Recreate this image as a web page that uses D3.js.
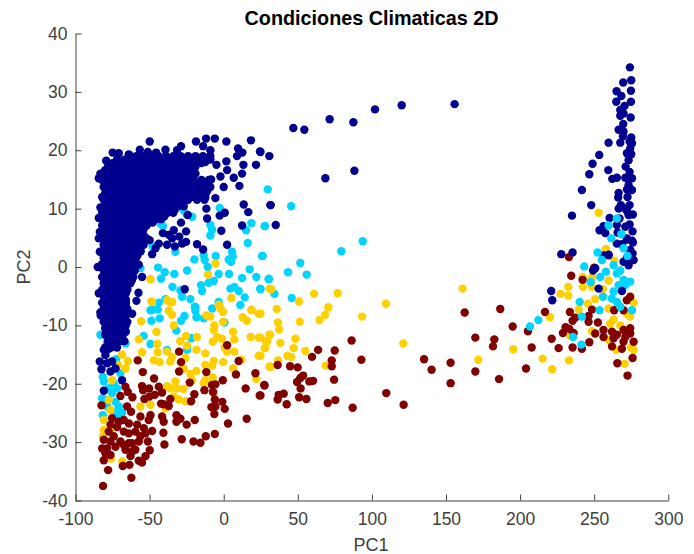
<!DOCTYPE html>
<html>
<head>
<meta charset="utf-8">
<script src="https://cdn.jsdelivr.net/npm/d3@7"></script>
<style>
html,body{margin:0;padding:0;background:#fff;}
svg{display:block;}
</style>
</head>
<body>
<div id="chart"></div>
<script>
const chartTitle = "Condiciones Climaticas 2D";
const xLabel = "PC1";
const yLabel = "PC2";
const xTicks = [-100,-50,0,50,100,150,200,250,300];
const yTicks = [-40,-30,-20,-10,0,10,20,30,40];

const navyColor = "#00008f", cyanColor = "#00d4ff", yellowColor = "#ffd000", maroonColor = "#800000";

// dense navy cloud, read row by row: [PC2, [PC1 ...]]
const navyRows = [
[19.0,[-64,-59,-54,-49,-44,-39,-34,-29,-24,-19,-14,-9]],
[18.4,[-72,-67,-62,-57,-52,-47,-42,-37,-32,-27,-22,-17,-12,-9]],
[17.8,[-75,-70,-65,-60,-55,-50,-45,-40,-35,-30,-25,-20,-15]],
[17.2,[-78,-73,-68,-64,-59,-55,-50,-46,-41,-36,-32,-27,-23,-19]],
[16.6,[-80,-75,-70,-66,-61,-57,-52,-48,-43,-38,-34,-30,-25,-21]],
[16.0,[-81,-77,-72,-68,-63,-59,-54,-50,-45,-41,-36,-32,-27,-23,-19]],
[15.4,[-80,-76,-71,-66,-62,-58,-53,-49,-44,-40,-35,-31,-26,-21]],
[14.9,[-82,-78,-74,-69,-65,-60,-56,-51,-47,-42,-38,-33,-29,-24,-20,-15,-10]],
[14.3,[-80,-75,-71,-66,-62,-57,-53,-48,-44,-39,-35,-30,-25,-22,-17,-12]],
[13.7,[-81,-77,-72,-68,-63,-59,-54,-50,-45,-41,-36,-32,-27,-23,-18,-13,-9]],
[13.1,[-79,-74,-70,-65,-61,-56,-52,-47,-43,-38,-33,-29,-24,-19,-15,-11]],
[12.6,[-80,-76,-71,-67,-62,-58,-53,-49,-44,-40,-35,-31,-26,-21,-16,-12]],
[12.0,[-79,-75,-70,-66,-61,-57,-52,-48,-43,-39,-34,-30,-25,-20,-15]],
[11.5,[-81,-77,-73,-68,-64,-59,-55,-50,-46,-41,-37,-32,-28,-24,-18,-13]],
[10.9,[-79,-74,-70,-65,-61,-56,-52,-47,-43,-38,-34,-29]],
[10.4,[-80,-75,-71,-66,-62,-57,-53,-48,-44,-39,-35,-31,-27]],
[9.8,[-81,-77,-72,-68,-63,-59,-54,-50,-45,-41,-36,-33]],
[9.3,[-82,-78,-73,-69,-64,-60,-55,-51,-47,-42,-38,-34]],
[8.7,[-80,-75,-71,-66,-62,-57,-53,-48,-44,-40]],
[8.2,[-81,-76,-72,-67,-63,-58,-54,-50,-46,-42]],
[7.6,[-80,-75,-71,-66,-62,-57,-53,-48]],
[7.1,[-82,-78,-73,-69,-64,-60,-56,-52]],
[6.5,[-80,-75,-71,-66,-62,-58,-54]],
[6.0,[-81,-76,-72,-67,-63,-59,-55]],
[5.4,[-80,-75,-71,-66,-62,-58,-54]],
[4.9,[-82,-78,-73,-69,-64,-60,-56,-52]],
[4.3,[-80,-75,-71,-66,-62,-57]],
[3.8,[-81,-76,-72,-67,-63,-58,-54]],
[3.2,[-80,-75,-71,-66,-62,-58]],
[2.7,[-82,-78,-73,-69,-64,-60,-56]],
[2.1,[-80,-75,-71,-66,-62,-58]],
[1.6,[-81,-76,-72,-67,-63,-59]],
[1.0,[-80,-75,-70,-66,-62]],
[0.5,[-82,-78,-73,-69,-64,-60]],
[-0.1,[-80,-75,-71,-66,-62]],
[-0.6,[-81,-76,-72,-67,-63,-60]],
[-1.2,[-80,-75,-70,-66,-62]],
[-1.7,[-82,-78,-73,-69,-65,-61]],
[-2.3,[-80,-75,-71,-66,-62]],
[-2.8,[-81,-76,-72,-68,-63]],
[-3.4,[-79,-75,-70,-66]],
[-3.9,[-82,-78,-73,-69,-65]],
[-4.5,[-80,-75,-71,-66]],
[-5.0,[-81,-76,-72,-68]],
[-5.6,[-79,-75,-70,-66]],
[-6.1,[-82,-78,-73,-69,-66]],
[-6.7,[-80,-75,-71,-66]],
[-7.2,[-81,-76,-72,-68,-65]],
[-7.8,[-79,-75,-70,-66]],
[-8.3,[-83,-78,-73,-69,-66]],
[-8.9,[-80,-75,-71,-67]],
[-9.4,[-81,-76,-72,-68,-65]],
[-10.0,[-79,-74,-70,-66]],
[-10.5,[-80,-75,-71,-67]],
[-11.1,[-78,-74,-69,-66]],
[-11.6,[-80,-76,-72,-68]],
[-12.7,[-78,-74,-70,-67]],
[-13.8,[-80,-76,-72]]
];

const navyPoints = [
[155.8,27.9],[120.1,27.7],[102.1,27],[71.5,25.3],[87.5,24.8],[47,23.8],[54.4,23.5],[24.8,19.7],[30.8,19],[88.2,16.5],[68.6,15.2],[31.7,10.6],[35.1,7.2],
[-49.9,21.5],[-74.9,19.6],[-70.8,19.5],[-64,19.3],[-56.6,20.1],[-51.2,19.7],[-45.6,19.6],[-39.3,20.1],[-31.5,20],[-28.8,20.7],[-18.7,21.5],[-11.9,22],[-6,22],[1.8,21.5],[18.4,21.7],[-13.9,20.7],[-9,20],[9.7,20.3],[12.6,19.6],[24.5,19.8],[9,19],[21.8,17.5],[13.3,17.5],[1.8,18.1],[-4.9,17.5],[-12.4,18],[12.4,16],[2.3,16.6],[6.8,15.3],[-2.2,15.5],[0,13.7],[10.6,13.9],[-8.5,15],[-5.6,11.8],[13.5,10.7],[16.6,9.4],[0.7,9.3],[-2.7,8.8],[31.5,10.6],[-11.7,10],[-11.2,8.3],[-24.3,8.9],[12.4,7.1],[-1.6,6.2],[-25.4,6.1],[-28.8,7.6],[-33.7,6.3],[-18,3.9],[2.3,3.8],[-25.4,4.3],[-28.1,4],[-13.9,3],[-34.8,4.9],[-38.2,3.8],[-43.8,4],[-48.3,2.2],[-57.3,0.4],[-55.1,-1.7],[-26.3,-3.8],[-57.5,-4.4],[-58.9,-5.8],[-12.4,11.9],[-42.7,8.2],[-84.3,15.2],[-83.2,16],[-79.3,18.2],[-70.8,18],[-83.2,10.2],[-84.3,8.4],[-82,12],[-84.3,4.9],[-83.6,2.6],[-83.6,6],[-85,0],[-84.3,-4.5],[-81.6,-6.2],
[-37,5.5],[-33,3.5],[-41,5.8],[-46,3.2],[-30,5.2],[-50,4.6],
[-61.8,-8],[-83.2,-7.8],[-80.9,-14.2],[-77.6,-14],[-74.2,-13.4],[-79.8,-15.1],[-83.6,-16.2],[-78.7,-16.5],[-82.5,-17.5],[-75.3,-16.2],[-73,-17.4],[-68.6,-19.4],[-76.4,-17.9],[-80.9,-21.2],
[274.1,34.2],[275,32],[269.6,31.6],[274.8,30.2],[265.1,30.1],[268.3,29.3],[274.8,28.3],[264.9,28.3],[270.5,27.6],[267.6,26.9],[269.8,26.3],[267.6,25.9],[274.6,25.6],[269.6,24.5],[266.5,23.5],[269.8,23.2],[269.4,22.4],[275,22.2],[259.7,21.3],[267.6,21.3],[273.9,21.5],[275.5,21.2],[274.3,20.3],[272.1,19.5],[275,19.3],[273.2,18.3],[253.4,19.2],[248.9,17.7],[271.2,17.2],[259.5,16.6],[273.9,16.3],[246.7,15.9],[262.2,15.1],[265.3,15.3],[271,15.3],[275.5,15.2],[273.2,15.2],[273.2,14],[241.7,13.2],[272.1,13.3],[275.5,13.2],[266.5,12.7],[272.5,12],[266.2,11.9],[248,10.6],[268,10.6],[273.9,10.6],[266.5,10],[271,10],[272.1,9.6],[276.1,9],[235,8.8],[273.2,8.9],[260.4,8.4],[267.1,8.3],[265.3,7.2],[273.9,7.3],[271,6.9],[256.3,7],[253.6,6.3],[257.5,5.8],[265.8,5.9],[275.9,6.1],[272.1,4.9],[275.5,4.5],[272.1,4.7],[276.1,4.2],[265.3,4],[268.7,3.9],[274.3,2.9],[275.9,2.3],[227.8,2.2],[235.4,2.5],[256.3,2],[259.7,2],[272,1.5],[276.6,1.2],[269.8,0.9],[273.2,0.3],[250.7,-0.2],[249.2,-0.6],[221,-4.1],[221.7,-5.7],[253,-3.7]
];

const navyTopPoints = [[268.7,-4.1],[259.7,2.1]];

const cyanLeftPoints = [
[29.7,13.3],[45.5,10.4],[27.7,7],[93.8,4.4],[79.4,2.7],[26.3,1.9],[51.7,0.7],[43.4,-0.9],[56,-1.3],[30.4,-2.1],[24.8,-3.8],[34.2,-4.6],[45.9,-5.3],
[-48,3.6],[-42.7,7.5],[-27,9.7],[-21.3,8.6],[-32.6,2.6],[-56.2,-0.2],[-60.7,3.2],[-41,7],[-25,9],
[-2.7,10.1],[-9,7.2],[-7.8,6.4],[-9,5.4],[18.7,7.5],[27.7,7],[15.1,6.3],[16.2,4.1],[5.6,2.6],[25.9,1.9],[6.1,1.8],[-13.5,2],[-12.8,1.2],[-5.4,1.9],[-19.8,1.3],[3.4,1.3],[5,0.9],[-10.8,0],[-44.3,-0.1],[-24.7,-0.6],[-39.8,-0.9],[-33.3,-1.2],[17.5,-0.4],[3.6,-1.2],[22,-1.7],[-42.3,-2],[-3.4,-1.2],[12.4,-1.9],[30.4,-2],[-6.7,-2.4],[-10.1,-2.7],[-15.3,-3.1],[-34.6,-3.4],[-14.6,-4.1],[4.5,-3.7],[7.2,-3.4],[10.1,-4.1],[24.7,-3.7],[-29.2,-4],[-28.1,-5.1],[-22.5,-5.5],[14.2,-5.2],[-43.8,-6.1],[-39.3,-5.5],[11.2,-6.5],[-19.1,-6.9],[-3.4,-6],[-7.8,-7.1],[-49.4,-7.4],
[-47.2,-7.3],[-44.5,-7.3],[-48.8,-9.2],[-43.2,-8.8],[-19.5,-6.8],[-19.1,-7.5],[-26.5,-8.4],[-28.8,-9.2],[-18.4,-8.6],[-13.5,-8.8],[0.5,-9.5],[-31.9,-10.9],[-54,-11.8],[-49.4,-13.2],[-21.8,-12.2],[-24.7,-14.2],[-38.2,-14.2],[-83.2,-11.6],[-78.7,-12.8],[-66.3,-13.1],[-72.6,-15.8],[-69.7,-18.2],[-81.6,-18.8],[-80.9,-19.6],[-77.6,-20.8],[-74.2,-19.9],[-71.9,-20.8],[-75.3,-21.6],[-82,-22.5],[-79.8,-22.8],[-73,-23.1],[-70.8,-23.9],[-78.7,-23.9],[-81.6,-25.4],[-68.6,-25],[-73,-24.8],[-71.9,-25.6]
];

const cyanRightPoints = [
[259.7,7.1],[265.3,8.3],[268.3,5.6],[261.5,4.9],[269.8,3.2],[252.3,2.5],[255.2,1.2],[272.5,1.9],[263.1,0.3],[243.3,0.1],[265.3,-1.1],[267.6,-0.6],[257.9,-0.8],[254.1,-1.7],[247.6,-2.6],[269.8,-2.2],[274.3,-2.5],[266.5,-3.1],[271,-3.1],[263.1,-4.2],[255.9,-5.1],[261.9,-5.4],[240.2,-6],[265.3,-6],[267.6,-6.8],[275.5,-7.4],[253.6,-7.4],[241.7,-8.5],[212.3,-9.1],[206.7,-10.2],[235.7,-12],[241.3,-13.3]
];

const yellowPoints = [
[161.2,-3.7],[32,-3.8],[61,-4.6],[76.9,-4.5],[50.8,-5.9],[109.5,-6.3],[70.6,-6.9],[35.8,-7.2],[24.8,-8],[68.4,-8.2],[93.4,-8.5],[64.6,-9.1],[51.3,-9.4],[36.7,-9.5],[37.4,-10.7],[31.3,-11.6],[48.4,-12.3],[24.8,-12.1],[28.6,-12.7],[38.2,-13],[121.2,-13.1],[27.7,-13.9],[47.2,-13.9],[55.1,-14.4],[43,-15.2],[24.8,-15.2],[45.5,-15.4],[171.8,-15.9],[36.7,-16],[68.8,-16.9],[31.7,-17.1],
[253,9.3],[257.9,3.1],[263.5,1.1],[242.2,-1.7],[248.5,-1.8],[259.7,-2.3],[242.4,-3.4],[232.5,-3.4],[248.5,-3.4],[255.9,-3.8],[227.3,-4.6],[232.5,-4.9],[250.7,-5.5],[245.8,-6.3],[276.6,-6.1],[239.5,-7.3],[259.7,-7.1],[272.1,-8],[220.2,-8.6],[263.1,-9],[274.3,-8.5],[260.8,-9.7],[267.6,-10],[248.5,-11],[233.9,-11.8],[259.7,-12.5],[274.8,-13.8],[264.9,-14.2],[195.4,-14.1],[215.2,-15.7],[233,-16],[221.7,-17.5],[270.5,-16.6],[276.6,-14.2],
[-48.8,-5.9],[-36,-6.1],[-37.1,-7.5],[-34.8,-8.2],[-55.7,-9.3],[-33.7,-10],[-45.4,-11.1],[-57.3,-12.4],[-25.4,-11.8],[-18,-12],[-29.3,-12.7],[-44.9,-13.2],[-24.7,-13.5],[-55.1,-14.6],[-44.5,-14.6],[-38.2,-14.5],[-18.4,-14.2],[-12.4,-14.8],[-4.5,-12],[-1.1,-12.3],[-7.4,-12.8],[-11.7,-8.3],[-9,-8.5],[-6.3,-10],[-6.7,-10.8],[-0.4,-9.4],[-3.4,-6.5],[-2.2,-7.1],[-0.4,-7.7],[12.8,-8.6],[15.7,-9.2],[18.7,-7.4],[23.6,-8],[6.3,-11.1],[7.2,-12.4],[0.7,-13.8],[7.2,-14.5],[2.3,-14.5],[18.2,-12],[23.6,-12.1],[29.2,-12.8],[27.9,-13.9],[30.8,-11.6],[23.6,-15.2],[31,-17.1],[-0.4,-16.3],[11.9,-15.9],[6.3,-17.4],[22,-19.2],[-6.7,-16.1],[-7.8,-16.9],[-12.4,-16.8],[-18.4,-17.8],[-22.4,-18.3],[-21.4,-19.4],[-7.4,-18.9],[-12.4,-19.4],[-13.5,-19.9],[-6.7,-21.6],[-27,-17.4],[-25.8,-15.6],[-34.8,-15.4],[-36,-16.2],[-47.2,-16],[-43.2,-16.3],[-32.6,-19.6],[-38.2,-20.4],[-36,-20.8],[-27,-20.9],[-31.5,-20.8],[-33.7,-22.2],[-25.8,-23],[-30.3,-22.7],[-49.4,-23.6],[-56.2,-23.9],[-39.3,-24.2],[-64.7,-16.1],[-68.6,-15],[-71.3,-16.8],[-66.3,-17.4],[-75.3,-19.4],[-74.2,-27.5],[-80.9,-27.9],[-81.4,-29],[-77.6,-22.8],[-76.4,-24.5],[-80.9,-26.2],[-68.5,-33.3],[-76,-32.8],
[-49.4,-2.1],[-5.6,0.6],[-10.6,-1.3],[5.2,-5.3],[-48.3,-6],[-38.2,-5.7],[-34.8,-6],[-3.1,-6.5],[31,-3.7],[18.7,-7.3]
];

const maroonPoints = [
[162.6,-7.8],[186.6,-7.2],[169.8,-12.1],[182.6,-12.4],[181.7,-13.6],[86.3,-12.6],[63.7,-14.2],[74.9,-14.3],[59.6,-15.4],[135.2,-15.8],[92.9,-15.9],[72.9,-16],[153.1,-16.4],[140.3,-17.6],[169.8,-17.9],[72.9,-17],[36.4,-16.8],[44.8,-17],[49.9,-17.2],[53.6,-18.6],[51.7,-19],[49.5,-19.7],[74.5,-19.3],[57.8,-19.6],[60.3,-19.5],[185.8,-19.2],[27.5,-20.3],[51.9,-20.8],[153.1,-19.9],[40.5,-21.7],[37.1,-21.9],[24.8,-22],[109.7,-21.6],[36.4,-22.7],[50.9,-22.3],[55.8,-22.6],[75.3,-22.8],[70.2,-23.3],[42.5,-23.5],[121.4,-23.6],[87,-24.1],
[233,1.7],[250,-0.1],[234.5,-1.5],[242.2,-2.2],[272,-5.7],[274.3,-5.1],[263.5,-7.4],[248.5,-7.3],[246.2,-8.4],[269.8,-7.4],[233.6,-7.7],[216.8,-7.7],[237.2,-8.7],[235.4,-9.2],[246.2,-9.4],[252.5,-9.5],[195,-10.2],[205.3,-11],[230.7,-10.3],[228.9,-11.3],[233.2,-10.6],[236.1,-11.3],[221.3,-12.3],[250.7,-11.4],[256.3,-10.8],[262,-11.1],[256.3,-12],[265.3,-11.6],[269.8,-10.8],[274.3,-10.5],[274.3,-11.4],[271,-12],[263.1,-12.2],[269.8,-12.8],[276.6,-12.8],[246.7,-12.9],[207.8,-13.8],[226,-13.9],[235.4,-13.8],[241.7,-14],[262,-13.6],[268.7,-14],[275.9,-15.6],[265.6,-16.5],[204,-17.4],[272.5,-18.6],
[-81.4,-37.5],[-62.3,-36.1],[-78,-34.8],[-80.9,-33.1],[-68.1,-34.1],[-63.6,-33.9],[-57.3,-33.2],[-55.1,-33.5],[-52.8,-32.4],[-49.9,-31.4],[-40,-30.4],[-82,-31.1],[-78.7,-31.1],[-76.4,-32.2],[-79.8,-31.9],[-66.3,-31.3],[-61.8,-31.6],[-59.6,-31.3],[-62.9,-32.4],[-51.2,-29.9],[-57.3,-29.9],[-64,-30.2],[-69.7,-29.9],[-76.4,-29.9],[-80.9,-29.6],[-73,-30.8],[-67.4,-30.5],[-61.8,-30.2],[-52.8,-28.5],[-48.3,-28.1],[-40.7,-28.4],[-28.3,-29.5],[-20.4,-29.9],[-15.7,-30.1],[-12.1,-29],[-6,-28.6],[2.9,-26.8],[15.5,-26],[-19.5,-26.2],[-25,-27],[-31.9,-25.4],[-29.2,-26],[-31.9,-26.5],[-40.5,-26.5],[-41.6,-25.6],[-49.4,-25.4],[-50.6,-26.2],[-56.2,-25.6],[-58.4,-27],[-53.9,-27.6],[-64,-26.8],[-70.8,-26.5],[-75.3,-25.9],[-77.6,-28.2],[-74.2,-29],[-67.4,-28.2],[-59.6,-28.2],[-64,-28.5],[-56.2,-29],[-71.9,-27.4],[-76.4,-27],[-67.4,-26.2],[-62.5,-24.8],[-65.2,-23.9],[-82.5,-23.7],[-69.7,-22.1],[-61.6,-22.3],[-64.7,-21.4],[-66.3,-20.5],[-55.1,-20.4],[-50.3,-20.8],[-54.4,-21.1],[-43.8,-20.5],[-53.5,-22.6],[-50.1,-22.2],[-46.5,-21.9],[-41.6,-21.5],[-36,-22.6],[-40.5,-23.5],[-37.1,-23.8],[-42.3,-23.4],[-47,-19.1],[-54.6,-18],[-58,-16],[-30.1,-14.5],[-28.8,-16.3],[-30.1,-17.9],[-11.7,-18],[2.3,-13.4],[10.1,-16.1],[21.4,-18.2],[8.3,-18.4],[-0.6,-19.4],[-22.9,-19.8],[-13,-21.1],[-7.9,-20.2],[-5.6,-20.1],[-7.2,-21.4],[27.4,-20.2],[14.8,-20.8],[24.3,-22],[-6,-22.7],[-0.9,-23.1],[-19.8,-21.8],[-22,-23],[-5.6,-23.9],[-8.3,-24],[0.7,-24.3],[-6.3,-25.2]
];

const W = 694, H = 554;
const svg = d3.select("#chart").append("svg").attr("width", W).attr("height", H);

const x = d3.scaleLinear().domain([-100, 300]).range([75.5, 668.3]);
const y = d3.scaleLinear().domain([-40, 40]).range([500.5, 33.5]);

const axisColor = "#404040";
const fontFamily = "'Liberation Sans', Arial, sans-serif";

function drawDots(points, color) {
  svg.append("g").selectAll("circle").data(points).join("circle")
    .attr("cx", d => x(d[0])).attr("cy", d => y(d[1])).attr("r", 4.2)
    .attr("fill", color);
}
const navyFromRows = navyRows.flatMap(([py, xs]) => xs.map(px => [px, py]));

drawDots(cyanLeftPoints, cyanColor);
drawDots(yellowPoints, yellowColor);
drawDots(maroonPoints, maroonColor);
drawDots(navyFromRows, navyColor);
drawDots(navyPoints, navyColor);
drawDots(cyanRightPoints, cyanColor);
drawDots(navyTopPoints, navyColor);

const gx = svg.append("g").attr("transform", `translate(0,${y(-40)})`)
  .call(d3.axisBottom(x).tickValues(xTicks).tickFormat(String).tickSizeInner(-6).tickSizeOuter(0).tickPadding(12));
const gy = svg.append("g").attr("transform", `translate(${x(-100)},0)`)
  .call(d3.axisLeft(y).tickValues(yTicks).tickFormat(String).tickSizeInner(-6).tickSizeOuter(0).tickPadding(8));
[gx, gy].forEach(g => {
  g.selectAll("path,line").attr("stroke", axisColor).attr("stroke-width", 1);
  g.selectAll("text").attr("fill", axisColor).attr("font-size", 17.5).attr("font-family", fontFamily);
});

svg.append("text").attr("x", 371.5).attr("y", 25).attr("text-anchor", "middle")
  .attr("font-size", 19.8).attr("font-weight", "bold").attr("font-family", fontFamily).attr("fill", "#000").text(chartTitle);
svg.append("text").attr("x", 371).attr("y", 551).attr("text-anchor", "middle")
  .attr("font-size", 18).attr("font-family", fontFamily).attr("fill", axisColor).text(xLabel);
svg.append("text").attr("transform", "translate(30,267) rotate(-90)").attr("text-anchor", "middle")
  .attr("font-size", 18).attr("font-family", fontFamily).attr("fill", axisColor).text(yLabel);
</script>
</body>
</html>
